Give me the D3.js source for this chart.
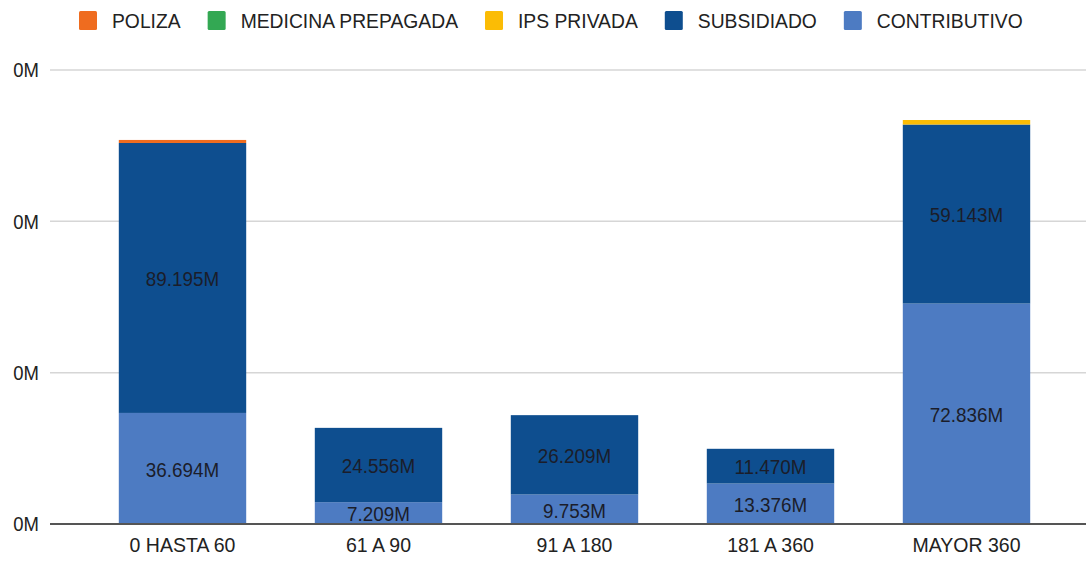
<!DOCTYPE html>
<html>
<head>
<meta charset="utf-8">
<script src="https://cdn.jsdelivr.net/npm/d3@7"></script>
<style>
html,body{margin:0;padding:0;background:#fff;}
svg{display:block;font-family:"Liberation Sans",Arial,sans-serif;}
</style>
</head>
<body>
<svg id="chart" width="1086" height="564"></svg>
<script>
const categories = ["0 HASTA 60", "61 A 90", "91 A 180", "181 A 360", "MAYOR 360"];
const seriesNames = ["CONTRIBUTIVO", "SUBSIDIADO", "IPS PRIVADA", "MEDICINA PREPAGADA", "POLIZA"];
const contributivo = [36.694, 7.209, 9.753, 13.376, 72.836];
const subsidiado = [89.195, 24.556, 26.209, 11.470, 59.143];
const ipsPrivada = [0, 0, 0, 0, 1.5];
const medicinaPrepagada = [0, 0, 0, 0, 0];
const poliza = [1.0, 0, 0, 0, 0];
const legendOrder = ["POLIZA", "MEDICINA PREPAGADA", "IPS PRIVADA", "SUBSIDIADO", "CONTRIBUTIVO"];
const tickValues = [0, 50, 100, 150];
const tickLabels = ["0M", "0M", "0M", "0M"];
const labeledSeries = ["CONTRIBUTIVO", "SUBSIDIADO"];

const colors = {
  "POLIZA": "#ef6c1f",
  "MEDICINA PREPAGADA": "#33a853",
  "IPS PRIVADA": "#fbbc05",
  "SUBSIDIADO": "#0e4e8f",
  "CONTRIBUTIVO": "#4d7bc2"
};

const seriesValues = {
  "CONTRIBUTIVO": contributivo,
  "SUBSIDIADO": subsidiado,
  "IPS PRIVADA": ipsPrivada,
  "MEDICINA PREPAGADA": medicinaPrepagada,
  "POLIZA": poliza
};

const rows = categories.map((c, i) => {
  const r = {cat: c};
  seriesNames.forEach(s => r[s] = seriesValues[s][i]);
  return r;
});

const svg = d3.select("#chart");
const x = d3.scaleBand().domain(categories).range([84.5, 1064.5]).paddingInner(0.35).paddingOuter(0.175);
const y = d3.scaleLinear().domain([0, 150]).range([524, 70]);

// gridlines
svg.append("g").selectAll("line").data(tickValues.filter(v => v > 0)).join("line")
  .attr("x1", 50).attr("x2", 1086)
  .attr("y1", d => y(d)).attr("y2", d => y(d))
  .attr("stroke", "#d6d6d6").attr("stroke-width", 1.5);

// y axis labels
const yAxis = d3.axisLeft(y).tickValues(tickValues).tickSize(0).tickPadding(0)
  .tickFormat((d, i) => tickLabels[i]);
const yg = svg.append("g").attr("transform", "translate(39,0)").call(yAxis);
yg.select(".domain").remove();
yg.selectAll(".tick text")
  .attr("font-size", 21).attr("fill", "#222")
  .attr("font-family", "'Liberation Sans',Arial,sans-serif")
  .attr("transform", "scale(0.88,1)");

// stacked bars
const stack = d3.stack().keys(seriesNames);
const stacked = stack(rows);

const layers = svg.append("g").selectAll("g").data(stacked).join("g")
  .attr("fill", d => colors[d.key]);
layers.selectAll("rect").data(d => d).join("rect")
  .attr("x", d => x(d.data.cat))
  .attr("width", x.bandwidth())
  .attr("y", d => y(d[1]))
  .attr("height", d => y(d[0]) - y(d[1]));

// labels
const lblLayers = svg.append("g").selectAll("g").data(stacked.filter(d => labeledSeries.includes(d.key))).join("g");
lblLayers.selectAll("text").data(d => d.filter(p => p[1] - p[0] > 0)).join("text")
  .attr("transform", d => `translate(${x(d.data.cat) + x.bandwidth() / 2},${(y(d[0]) + y(d[1])) / 2 + 1}) scale(0.92,1)`)
  .attr("text-anchor", "middle")
  .attr("dominant-baseline", "central")
  .attr("font-size", 20.5)
  .attr("fill", "#1b1d2a")
  .text(d => d3.format(".3f")(d[1] - d[0]) + "M");

// baseline
svg.append("line").attr("x1", 50).attr("x2", 1086).attr("y1", y(0)).attr("y2", y(0))
  .attr("stroke", "#555").attr("stroke-width", 2);

// x axis
const xAxis = d3.axisBottom(x).tickSize(0).tickPadding(0);
const xg = svg.append("g").attr("transform", `translate(0,${y(0) + 14})`).call(xAxis);
xg.select(".domain").remove();
xg.selectAll("text").attr("font-size", 19.5).attr("fill", "#222").attr("font-family", "'Liberation Sans',Arial,sans-serif");

// legend
const legend = svg.append("g").attr("transform", "translate(79,20)");
let lx = 0;
legendOrder.forEach(name => {
  const g = legend.append("g").attr("transform", `translate(${lx},0)`);
  g.append("rect").attr("x", 0).attr("y", -9).attr("width", 18).attr("height", 19).attr("rx", 1.5)
    .attr("fill", colors[name]);
  const t = g.append("text").attr("transform", "translate(33,1) scale(0.92,1)").attr("dominant-baseline", "central")
    .attr("font-size", 21).attr("fill", "#222").text(name);
  lx += 33 + t.node().getComputedTextLength() * 0.92 + 27;
});
</script>
</body>
</html>
